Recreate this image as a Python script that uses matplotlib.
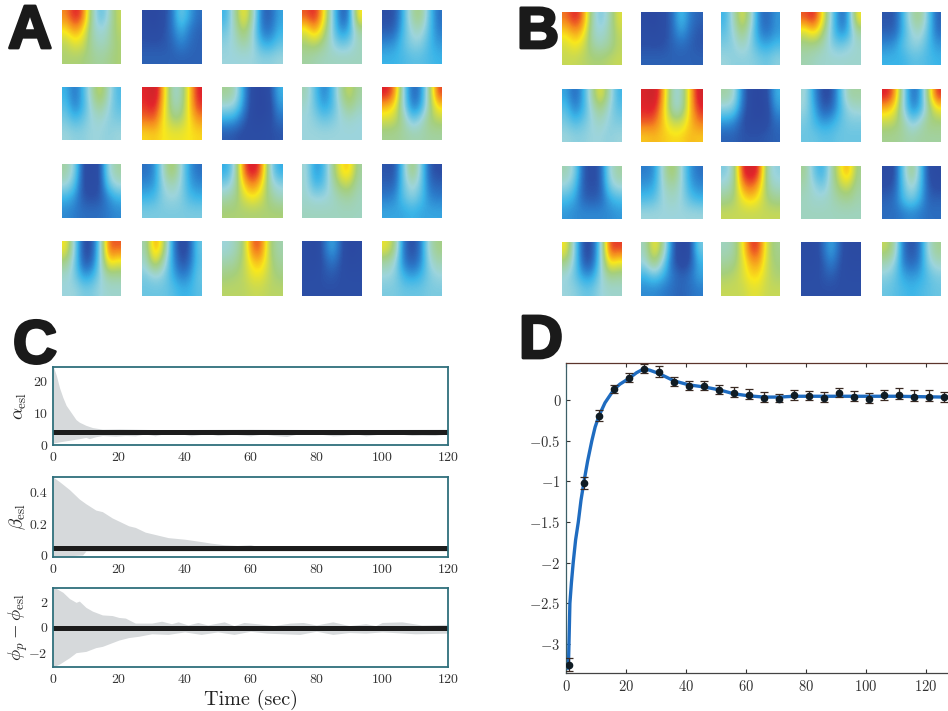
import numpy as np
import matplotlib
matplotlib.use('Agg')
import matplotlib.pyplot as plt
import matplotlib.patheffects as pe
from matplotlib.colors import LinearSegmentedColormap

plt.rcParams['font.family'] = ['cmr10', 'DejaVu Serif']
plt.rcParams['mathtext.fontset'] = 'cm'
plt.rcParams['axes.formatter.use_mathtext'] = True
plt.rcParams['axes.unicode_minus'] = False

W, H = 948, 711

# ===================== heatmap values (4 rows x 7 columns per cell) =====================
panel_a = [
    [[[80,92,85,50,33,42,60],[68,78,70,48,42,46,58],[58,65,62,50,45,48,56],[56,56,55,52,50,52,56]],
     [[12,10,14,20,38,28,20],[14,12,15,20,30,22,18],[16,16,16,18,24,20,18],[18,18,18,18,18,18,18]],
     [[30,50,70,50,20,17,28],[36,46,60,44,22,20,30],[40,44,50,44,30,28,35],[42,42,42,42,40,40,42]],
     [[85,92,72,40,18,20,70],[64,78,62,40,24,28,50],[55,58,52,42,36,38,46],[50,48,46,46,46,46,46]],
     [[15,15,30,50,55,35,20],[17,18,32,44,46,34,22],[24,26,34,40,40,32,26],[30,30,32,34,34,32,30]]],
    [[[30,20,30,48,62,46,32],[34,22,30,44,52,42,34],[38,32,36,42,44,40,38],[42,40,40,42,42,40,42]],
     [[90,98,75,45,45,70,92],[88,92,72,48,48,70,88],[82,84,68,56,56,68,78],[70,72,68,66,66,68,70]],
     [[52,48,26,12,10,14,30],[42,40,24,12,10,12,26],[28,26,18,12,12,14,20],[17,16,14,14,14,15,16]],
     [[48,34,22,30,50,62,50],[44,36,27,32,44,54,46],[42,40,36,38,42,44,42],[42,42,42,42,42,42,42]],
     [[92,82,40,18,22,50,88],[74,68,42,22,26,50,70],[62,60,50,36,42,54,58],[52,52,50,48,48,50,50]]],
    [[[50,40,14,12,14,42,50],[44,34,14,13,14,36,44],[30,26,16,15,16,24,30],[24,22,20,20,20,22,24]],
     [[20,24,46,60,44,26,20],[24,26,42,48,42,28,24],[30,32,40,42,40,32,30],[38,38,38,38,38,38,38]],
     [[28,42,85,95,85,42,28],[38,46,72,82,72,46,40],[48,52,62,68,62,52,46],[56,56,56,56,56,56,56]],
     [[44,25,30,50,68,74,50],[44,30,34,46,58,60,48],[44,42,42,44,48,50,46],[46,46,46,46,46,46,46]],
     [[16,15,36,58,40,17,14],[18,18,36,46,38,20,18],[22,24,34,40,34,24,22],[28,28,28,30,28,28,28]]],
    [[[68,40,14,14,36,85,85],[54,38,16,17,38,72,66],[44,38,26,28,40,50,50],[42,42,38,38,42,44,44]],
     [[48,80,62,26,12,15,36],[44,66,48,28,15,18,34],[38,42,40,30,22,24,36],[36,36,36,34,30,30,34]],
     [[42,46,55,85,85,55,48],[48,50,58,72,74,58,50],[54,56,58,66,66,58,54],[58,58,58,60,60,58,58]],
     [[14,10,18,30,18,10,12],[14,12,16,22,16,12,13],[14,14,16,17,15,14,14],[15,15,15,15,15,15,15]],
     [[66,55,20,14,20,46,54],[50,44,22,17,22,42,48],[42,40,30,26,30,38,42],[38,38,36,36,36,38,38]]],
]

panel_b = [
    [[[82,92,82,48,36,46,64],[70,78,72,46,42,48,60],[62,68,62,50,46,50,58],[60,60,58,56,56,58,60]],
     [[12,10,14,18,34,22,18],[14,12,14,18,28,20,16],[15,15,15,18,20,18,16],[18,18,18,18,18,18,18]],
     [[30,46,66,48,22,18,26],[34,42,56,42,24,20,26],[38,40,46,40,30,28,32],[42,40,40,40,38,36,40]],
     [[85,92,70,40,20,24,68],[62,72,58,38,24,28,50],[52,52,48,40,36,40,44],[48,46,44,44,44,44,44]],
     [[16,16,30,48,54,36,18],[18,18,30,42,46,34,20],[24,26,34,40,40,32,26],[30,30,30,34,34,32,30]]],
    [[[28,18,28,50,68,48,30],[34,22,30,44,54,42,34],[38,32,36,42,46,40,38],[42,40,40,42,42,40,42]],
     [[92,98,78,45,42,72,95],[90,92,74,46,44,72,90],[85,84,72,60,60,72,82],[72,74,72,70,70,74,72]],
     [[50,46,22,12,10,14,30],[40,38,20,12,10,12,26],[26,24,16,12,12,14,20],[18,18,16,16,16,17,18]],
     [[44,26,14,14,30,50,50],[42,30,17,18,30,42,44],[38,32,26,28,34,38,38],[36,36,34,34,36,36,36]],
     [[92,82,42,20,24,58,90],[74,68,42,24,28,50,66],[60,58,50,38,44,54,54],[52,52,50,48,50,50,50]]],
    [[[48,40,16,14,16,42,50],[42,34,16,15,16,38,44],[32,28,18,17,18,28,32],[26,24,24,24,24,24,26]],
     [[22,24,46,60,44,26,20],[26,28,44,50,44,28,24],[32,34,42,46,42,34,30],[42,42,42,42,42,42,42]],
     [[38,46,90,95,90,46,40],[44,50,78,85,76,50,44],[52,55,66,72,66,55,52],[60,60,60,60,60,60,60]],
     [[52,36,28,46,65,78,52],[48,42,36,46,58,62,50],[46,44,44,46,50,52,48],[46,46,46,46,46,46,46]],
     [[12,14,36,56,36,14,12],[15,16,34,46,34,16,14],[18,20,32,38,30,18,18],[20,20,22,24,22,20,20]]],
    [[[68,38,14,14,36,88,88],[54,38,16,16,38,72,66],[42,36,26,26,40,52,50],[42,40,36,36,42,44,44]],
     [[46,70,52,20,10,12,38],[42,58,40,18,12,14,30],[30,36,30,22,18,20,28],[24,24,22,20,18,20,22]],
     [[46,48,65,88,88,60,52],[50,52,62,76,78,60,54],[56,58,62,70,70,60,56],[60,60,60,64,64,60,60]],
     [[13,12,18,30,18,12,12],[14,13,16,24,16,13,13],[14,14,16,18,15,14,14],[15,15,15,15,15,15,15]],
     [[60,50,20,15,20,44,52],[48,42,22,18,22,40,46],[40,36,28,26,28,34,38],[36,34,32,30,32,34,36]]],
]

# ===================== panel C: bands =====================
alpha_t_up = [0, 1, 2, 3, 4, 5, 6, 7, 8, 10, 12, 15, 20, 30, 40, 60, 80, 100, 120]
alpha_up = [25, 22, 18, 15, 12.5, 11, 9.5, 8, 7.2, 6.2, 5.5, 5, 5.1, 4.9, 4.9, 5, 4.9, 4.9, 5]
alpha_t_lo = [0, 2, 5, 8, 10, 11, 13, 15, 17, 19, 22, 25, 28, 31, 34, 38, 42, 47, 50, 55, 60, 64, 67, 71, 75,
              82, 85, 88, 92, 95, 100, 105, 109, 112, 116, 120]
alpha_lo = [0.6, 1, 1.5, 2, 2.4, 2, 2.6, 3, 2.9, 2.8, 3, 2.9, 3.5, 2.9, 3.6, 3.7, 2.9, 3.6, 3, 3.4, 2.9, 3.5, 3,
            2.7, 3.6, 3.3, 2.9, 3, 3.5, 2.9, 3.5, 3.5, 3, 3.1, 3, 3.5]

beta_t_up = [0, 2, 5, 8, 10, 13, 15, 18, 20, 23, 25, 28, 30, 35, 40, 45, 48, 52, 56, 60, 63, 68, 75, 85, 95, 105, 120]
beta_up = [0.5, 0.47, 0.42, 0.36, 0.33, 0.29, 0.28, 0.24, 0.22, 0.19, 0.18, 0.15, 0.14, 0.115, 0.105, 0.09, 0.08,
           0.07, 0.065, 0.07, 0.055, 0.06, 0.055, 0.06, 0.06, 0.06, 0.055]
beta_t_lo = [0, 5, 9, 10, 20, 40, 60, 80, 100, 120]
beta_lo = [0, 0, 0.005, 0.03, 0.03, 0.03, 0.03, 0.03, 0.03, 0.03]

phi_t_up = [0, 1, 3, 5, 7, 8, 10, 12, 15, 18, 20, 22, 25, 30, 33, 36, 38, 41, 44, 47, 52, 55, 58, 62, 67, 72, 76, 80, 85, 90, 95, 98, 100, 106, 112, 120]
phi_up = [3.14, 3.1, 2.8, 2.3, 2.0, 2.1, 1.6, 1.3, 1.0, 0.95, 0.8, 0.75, 0.35, 0.35, 0.5, 0.3, 0.45, 0.2, 0.4, 0.2, 0.45,
          0.15, 0.4, 0.3, 0.15, 0.35, 0.4, 0.2, 0.45, 0.15, 0.3, 0.15, 0.4, 0.45, 0.2, 0.25]
phi_t_lo = [0, 2, 5, 7, 10, 13, 15, 20, 23, 26, 30, 35, 40, 45, 50, 55, 60, 65, 70, 75, 80, 85, 90, 95, 100, 110, 120]
phi_lo = [-3.14, -2.9, -2.4, -2.0, -1.9, -1.6, -1.5, -1.0, -0.8, -0.7, -0.5, -0.55, -0.35, -0.55, -0.35, -0.55,
          -0.3, -0.45, -0.5, -0.55, -0.3, -0.55, -0.4, -0.45, -0.35, -0.5, -0.45]

lines_c = [4.2, 0.05, -0.05]
c_xticks = [0, 20, 40, 60, 80, 100, 120]
c_ylabels = [r'$\alpha_{\mathrm{esl}}$', r'$\beta_{\mathrm{esl}}$', r'$\phi_p-\phi_{\mathrm{esl}}$']
c_ylabel_x = [20, 18, 18]
c_yticks = [[0, 10, 20], [0, 0.2, 0.4], [-2, 0, 2]]
c_yticklabels = [['0', '10', '20'], ['0', '0.2', '0.4'], ['$-2$', '0', '2']]
c_ylims = [(0, 24.6), (-0.008, 0.5), (-3.14, 3.14)]

# ===================== panel D =====================
d_x = [1, 6, 11, 16, 21, 26, 31, 36, 41, 46, 51, 56, 61, 66, 71, 76, 81, 86, 91, 96, 101, 106, 111, 116, 121, 126]
d_y = [-3.26, -1.02, -0.19, 0.135, 0.27, 0.39, 0.35, 0.225, 0.18, 0.175, 0.125, 0.095, 0.07, 0.03, 0.015, 0.06, 0.05,
       0.03, 0.095, 0.045, 0.02, 0.06, 0.07, 0.045, 0.045, 0.035]
d_err_lo = [0.08, 0.07, 0.06, 0.05, 0.05, 0.05, 0.06, 0.05, 0.05, 0.05, 0.05, 0.05, 0.05, 0.05, 0.04, 0.05, 0.05,
            0.05, 0.05, 0.05, 0.05, 0.05, 0.05, 0.05, 0.05, 0.05]
d_err_hi = [0.08, 0.07, 0.07, 0.06, 0.07, 0.06, 0.07, 0.06, 0.06, 0.06, 0.06, 0.07, 0.07, 0.07, 0.06, 0.07, 0.07,
            0.07, 0.06, 0.07, 0.07, 0.07, 0.08, 0.08, 0.08, 0.07]
curve_x = [0.8, 1.3, 1.8, 2.4, 3.2, 4.1, 5, 6, 7.2, 8.6, 9.7, 11, 13, 16, 18, 21, 23.5, 26, 28, 31, 36, 41, 46, 51, 56,
           61, 66, 71, 76, 90, 110, 126, 128]
curve_y = [-3.3, -2.5, -2.25, -2, -1.72, -1.5, -1.23, -1, -0.75, -0.5, -0.33, -0.19, -0.03, 0.135, 0.2, 0.27, 0.34,
           0.39, 0.37, 0.33, 0.24, 0.19, 0.165, 0.13, 0.08, 0.055, 0.04, 0.04, 0.05, 0.05, 0.05, 0.04, 0.04]
d_xticks = [0, 20, 40, 60, 80, 100, 120]
d_yticks = [0, -0.5, -1, -1.5, -2, -2.5, -3]
d_yticklabels = ['0', '$-0.5$', '$-1$', '$-1.5$', '$-2$', '$-2.5$', '$-3$']

letters = ['A', 'B', 'C', 'D']
letter_sizes = [44, 42, 44, 44]

# jet, washed out as in the print
jet_print = LinearSegmentedColormap.from_list('jet_print', [
    (0.00, '#2b3a96'), (0.15, '#2c4fa6'), (0.22, '#2b7ccb'), (0.30, '#3bb5e8'), (0.42, '#9dd5dc'),
    (0.55, '#a6cf7c'), (0.68, '#f9e81c'), (0.80, '#f58a1f'), (0.90, '#e3242b'), (1.00, '#b8242a')])


def px_axes(left, top, right, bottom):
    return fig.add_axes([left / W, 1 - bottom / H, (right - left) / W, (bottom - top) / H])


fig = plt.figure(figsize=(W / 100, H / 100), dpi=100)

# ===================== A, B =====================
grids = [
    (panel_a, [(62, 121), (142, 201), (222, 282), (302, 362), (382, 442)]),
    (panel_b, [(562, 622), (641, 702), (721, 780), (801, 861), (882, 941)]),
]
row_a = [(10, 64), (87, 140), (164, 218), (241, 296)]
row_b = [(12, 65), (89, 142), (166, 219), (242, 296)]
for (values, cols), rows in zip(grids, [row_a, row_b]):
    for r, (top, bottom) in enumerate(rows):
        for c, (left, right) in enumerate(cols):
            ax = px_axes(left, top, right, bottom)
            ax.imshow(np.array(values[r][c]) / 100, cmap=jet_print, vmin=0, vmax=1,
                      aspect='auto', interpolation='bicubic')
            ax.axis('off')

# ===================== C =====================
c_rows = [(367, 445), (477, 557), (588, 667)]
bands = [(alpha_t_up, alpha_up, alpha_t_lo, alpha_lo),
         (beta_t_up, beta_up, beta_t_lo, beta_lo),
         (phi_t_up, phi_up, phi_t_lo, phi_lo)]
for i, (top, bottom) in enumerate(c_rows):
    ax = px_axes(53, top, 448, bottom)
    t_up, up, t_lo, lo = bands[i]
    ts = sorted(set(t_up) | set(t_lo))
    ax.fill_between(ts, np.interp(ts, t_lo, lo), np.interp(ts, t_up, up), color='#d6d9db', lw=0)
    ax.axhline(lines_c[i], color='#1c1c1c', lw=3.6)
    ax.set_xlim(0, 120)
    ax.set_ylim(*c_ylims[i])
    ax.set_xticks(c_xticks)
    ax.set_yticks(c_yticks[i])
    ax.set_yticklabels(c_yticklabels[i])
    ax.tick_params(length=0, labelsize=10, pad=4, labelcolor='#333333')
    for s in ax.spines.values():
        s.set_color('#2f6f7c')
        s.set_linewidth(1.3)
    fig.text(c_ylabel_x[i] / W, 1 - (top + bottom) / 2 / H, c_ylabels[i], rotation=90, fontsize=13.5,
             ha='center', va='center', color='#222222')
    if i == 2:
        ax.set_xlabel('Time (sec)', fontsize=14.5, labelpad=3, color='#222222')

# ===================== D =====================
ax = px_axes(566, 363, 948, 673)
ax.plot(curve_x, curve_y, color='#1f6cc0', lw=2.4, zorder=2)
ax.errorbar(d_x, d_y, yerr=[d_err_lo, d_err_hi], fmt='o', color='#101c24', ms=4.5, capsize=3, elinewidth=0.9,
            capthick=0.9, ecolor='#3a2a22', zorder=3)
ax.set_xlim(0, 127.3)
ax.set_ylim(-3.36, 0.46)
ax.set_xticks(d_xticks)
ax.set_yticks(d_yticks)
ax.set_yticklabels(d_yticklabels)
ax.tick_params(direction='in', top=True, length=3, labelsize=10.5, pad=4, labelcolor='#333333', color='#333333')
ax.spines['right'].set_visible(False)
ax.spines['top'].set_color('#5c352c')
ax.spines['left'].set_color('#3d6068')
ax.spines['bottom'].set_color('#444444')
for s in ax.spines.values():
    s.set_linewidth(0.9)

# ===================== letters =====================
letter_pos = [(30, 48), (538, 48), (35, 363), (541, 358)]
for s, (x, y), size in zip(letters, letter_pos, letter_sizes):
    fig.text(x / W, 1 - y / H, s, family='Liberation Sans', weight='bold', fontsize=size, color='#1a1a1a',
             ha='center', va='baseline',
             path_effects=[pe.withStroke(linewidth=2, foreground='#1a1a1a')])

fig.savefig('out.png', dpi=100)
